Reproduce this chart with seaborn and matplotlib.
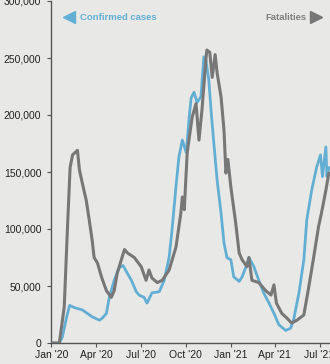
import matplotlib
matplotlib.use("Agg")
import matplotlib.pyplot as plt
import matplotlib.dates as mdates
from matplotlib.ticker import FuncFormatter
import seaborn as sns
import pandas as pd

# ---- data ----
case_dates = ["2020-01-01", "2020-01-17", "2020-01-23", "2020-02-01", "2020-02-07", "2020-02-17",
              "2020-03-04", "2020-03-14", "2020-03-24", "2020-04-08", "2020-04-14", "2020-04-22",
              "2020-04-28", "2020-05-08", "2020-05-18", "2020-05-26", "2020-06-04", "2020-06-12",
              "2020-06-22", "2020-06-28", "2020-07-08", "2020-07-14", "2020-07-24", "2020-08-08",
              "2020-08-18", "2020-08-28", "2020-09-03", "2020-09-11", "2020-09-17", "2020-09-24",
              "2020-10-02", "2020-10-08", "2020-10-12", "2020-10-18", "2020-10-24", "2020-11-01",
              "2020-11-07", "2020-11-11", "2020-11-17", "2020-11-22", "2020-11-28", "2020-12-04",
              "2020-12-12", "2020-12-18", "2020-12-24", "2021-01-01", "2021-01-07", "2021-01-18",
              "2021-01-24", "2021-02-01", "2021-02-07", "2021-02-17", "2021-02-27", "2021-03-09",
              "2021-03-20", "2021-03-30", "2021-04-09", "2021-04-23", "2021-05-03", "2021-05-09",
              "2021-05-20", "2021-05-30", "2021-06-05", "2021-06-15", "2021-06-25", "2021-07-03",
              "2021-07-07", "2021-07-14", "2021-07-16", "2021-07-20"]
confirmed_cases = [0, 0, 5000, 23000, 33000, 31000,
                   29000, 26000, 23000, 20000, 22000, 26000,
                   40000, 55000, 66000, 68000, 61000, 55000,
                   45000, 42000, 40000, 35000, 44000, 45000,
                   55000, 75000, 99000, 137000, 163000, 178000,
                   167000, 198000, 215000, 220000, 211000, 216000,
                   251000, 248000, 231000, 202000, 172000, 143000,
                   114000, 88000, 75000, 73000, 58000, 54000,
                   58000, 67000, 75000, 67000, 55000, 44000,
                   35000, 26000, 16000, 11000, 13000, 20000,
                   44000, 73000, 108000, 134000, 154000, 165000,
                   146000, 172000, 146000, 154000]

fatal_dates = ["2020-01-01", "2020-01-17", "2020-01-27", "2020-02-03", "2020-02-08", "2020-02-13",
               "2020-02-23", "2020-02-27", "2020-03-04", "2020-03-12", "2020-03-18", "2020-03-24",
               "2020-03-28", "2020-04-04", "2020-04-12", "2020-04-22", "2020-05-02", "2020-05-08",
               "2020-05-14", "2020-05-29", "2020-06-04", "2020-06-18", "2020-07-02", "2020-07-12",
               "2020-07-18", "2020-07-24", "2020-08-04", "2020-08-14", "2020-08-28", "2020-09-11",
               "2020-09-21", "2020-09-24", "2020-09-28", "2020-10-04", "2020-10-14", "2020-10-22",
               "2020-10-28", "2020-11-03", "2020-11-11", "2020-11-13", "2020-11-19", "2020-11-24",
               "2020-11-30", "2020-12-04", "2020-12-12", "2020-12-18", "2020-12-22", "2020-12-26",
               "2021-01-01", "2021-01-11", "2021-01-18", "2021-01-24", "2021-02-03", "2021-02-07",
               "2021-02-13", "2021-02-27", "2021-03-13", "2021-03-24", "2021-03-30", "2021-04-04",
               "2021-04-15", "2021-04-25", "2021-05-05", "2021-05-16", "2021-05-30", "2021-06-09",
               "2021-06-19", "2021-06-29", "2021-07-05", "2021-07-14", "2021-07-20"]
fatalities = [0, 0, 632, 2100, 3080, 3300,
              3380, 3040, 2800, 2500, 2160, 1800,
              1500, 1400, 1160, 920, 800, 920,
              1220, 1640, 1580, 1500, 1340, 1100,
              1280, 1140, 1060, 1100, 1280, 1680,
              2280, 2560, 2340, 3340, 3960, 4200,
              3560, 4080, 4960, 5140, 5100, 4660,
              5060, 4740, 4320, 3740, 2980, 3220,
              2740, 2100, 1580, 1460, 1340, 1500,
              1100, 1060, 920, 840, 1020, 700,
              520, 440, 350, 400, 492, 980,
              1500, 2040, 2280, 2680, 2980]

y_ticks = [0, 50000, 100000, 150000, 200000, 250000, 300000]
x_ticks = ["2020-01-01", "2020-04-01", "2020-07-01", "2020-10-01",
           "2021-01-01", "2021-04-01", "2021-07-01"]
x_labels = ["Jan '20", "Apr '20", "Jul '20", "Oct '20", "Jan '21", "Apr '21", "Jul '21"]

cases_df = pd.DataFrame({"date": pd.to_datetime(case_dates), "value": confirmed_cases})
fatal_df = pd.DataFrame({"date": pd.to_datetime(fatal_dates), "value": fatalities})

# ---- style ----
BG = "#e8e8e6"
BLUE = "#63afd3"
GRAY = "#777777"
AXC = "#555555"

sns.set_theme(style="white")
plt.rcParams["font.family"] = ["Liberation Sans", "DejaVu Sans"]

W, H = 330, 364
fig = plt.figure(figsize=(W / 100, H / 100), dpi=100, facecolor=BG)

xmin = pd.Timestamp("2019-12-31")
xmax = pd.Timestamp("2021-08-01")
px_per_day = 0.49
width_px = (xmax - xmin).days * px_per_day
left_px, bottom_px, top_px = 51, 21, 1
ax = fig.add_axes([left_px / W, bottom_px / H, width_px / W, (H - bottom_px - top_px) / H])
ax.set_facecolor(BG)

sns.lineplot(data=cases_df, x="date", y="value", ax=ax, color=BLUE, linewidth=2.0, zorder=2)
ax.set_ylim(0, 300000)
ax.set_xlim(xmin, xmax)

ax2 = ax.twinx()
sns.lineplot(data=fatal_df, x="date", y="value", ax=ax2, color=GRAY, linewidth=2.2, zorder=3)
ax2.set_ylim(0, 6000)
ax2.set_xlim(xmin, xmax)
ax2.axis("off")

ax.set_xlabel("")
ax.set_ylabel("")
ax.set_yticks(y_ticks)
ax.yaxis.set_major_formatter(FuncFormatter(lambda v, p: f"{int(v):,}"))
ax.set_xticks(pd.to_datetime(x_ticks))
ax.set_xticklabels(x_labels)

for s in ["top", "right"]:
    ax.spines[s].set_visible(False)
for s in ["left", "bottom"]:
    ax.spines[s].set_color(AXC)
    ax.spines[s].set_linewidth(1.0)

ax.tick_params(axis="y", which="major", direction="out", length=3, width=0.8,
               color=AXC, labelsize=7.5, labelcolor="#222222", pad=4, left=True)
ax.tick_params(axis="x", which="major", direction="out", length=3, width=0.8,
               color=AXC, labelsize=7.5, labelcolor="#222222", pad=2, bottom=True)

# ---- legend-like annotations ----
fig.lines.append(plt.Line2D([69 / W], [1 - 17 / H], marker="<", markersize=9,
                            color=BLUE, transform=fig.transFigure, linestyle="none"))
fig.text(80 / W, 1 - 17 / H, "Confirmed cases", color=BLUE, fontsize=6.8,
         fontweight="bold", va="center", ha="left")
fig.lines.append(plt.Line2D([316 / W], [1 - 17 / H], marker=">", markersize=9,
                            color=GRAY, transform=fig.transFigure, linestyle="none"))
fig.text(306 / W, 1 - 17 / H, "Fatalities", color="#808080", fontsize=6.8,
         fontweight="bold", va="center", ha="right")

fig.savefig("out.png", dpi=100, facecolor=BG)
